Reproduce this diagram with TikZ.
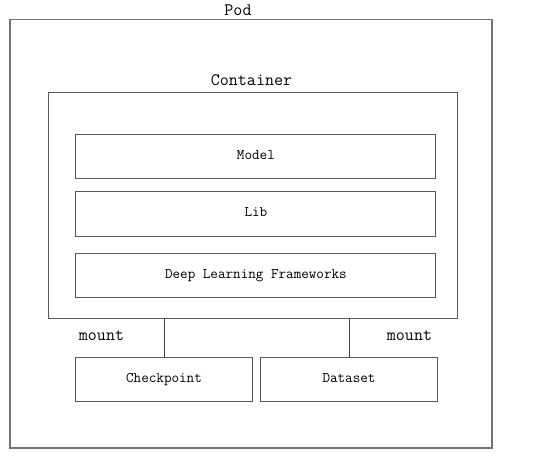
\documentclass[tikz,border=0pt]{standalone}
\usepackage{tikz}
\usetikzlibrary{positioning,calc}

\begin{document}
\begin{tikzpicture}[
  x=1pt, y=-1pt,
  frame/.style={draw=black!65, line width=1pt, rectangle, inner sep=0pt},
  layer/.style={frame, minimum width=360pt, minimum height=44.5pt, text height=8pt, text depth=2pt, font=\ttfamily\fontsize{14.7}{16}\selectfont},
  volume/.style={frame, minimum width=176.5pt, minimum height=44.5pt, text height=8pt, text depth=2pt, font=\ttfamily\fontsize{14.7}{16}\selectfont},
  caption/.style={inner sep=0pt, text height=9.5pt, text depth=2.5pt, font=\ttfamily\fontsize{17.5}{19}\selectfont},
  mnt/.style={draw=black!75, line width=1pt}
]
\useasboundingbox (0,0) rectangle (554,455);
% outer pod and container
\node[frame, draw=black!55, line width=1.3pt, minimum width=482pt, minimum height=428.5pt] (pod) at (251,233.8) {};
\node[caption] (podlbl) at (238,12) {Pod};
\node[frame, minimum width=409pt, minimum height=226pt] (container) at (253.2,205) {};
\node[caption] (contlbl) at (251.5,82) {Container};
% layers inside the container
\node[layer] (model) at (255.9,156.5) {Model};
\node[layer] (lib) at (255.9,213.8) {Lib};
\node[layer] (dlf) at (255.9,275.3) {Deep Learning Frameworks};
% mounted volumes
\node[volume] (ckpt) at (164,379.3) {Checkpoint};
\node[volume] (data) at (349,379.3) {Dataset};
\draw[mnt] (ckpt.north) -- (ckpt.north |- container.south);
\draw[mnt] (data.north) -- (data.north |- container.south);
\node[caption] (mnt1) at (101.5,337) {mount};
\node[caption] (mnt2) at (409.5,337) {mount};
\end{tikzpicture}
\end{document}
